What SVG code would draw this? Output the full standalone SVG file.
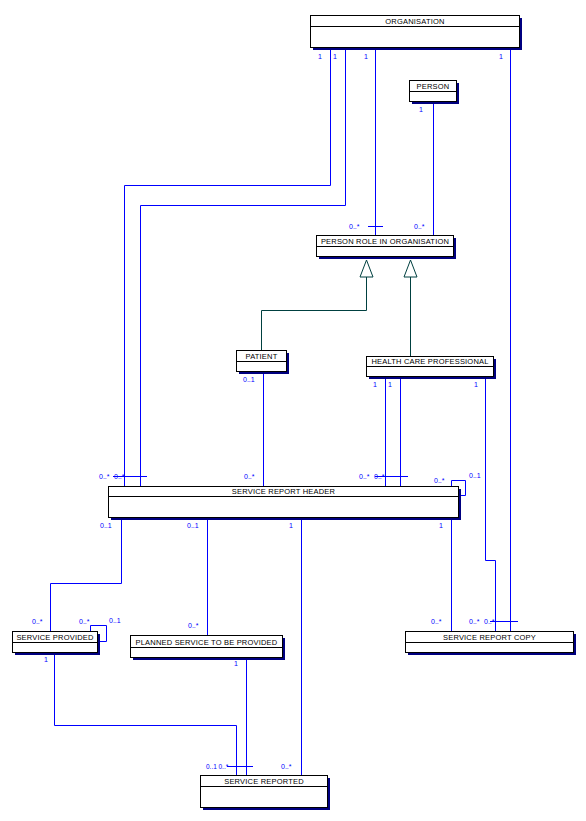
<svg xmlns="http://www.w3.org/2000/svg" width="586" height="821" viewBox="0 0 586 821">
<style>
.sh{fill:#000080}
.bx{fill:#fff;stroke:#000;stroke-width:1}
.hl{stroke:#000;stroke-width:1}
.t{font-family:"Liberation Sans",Arial,sans-serif;font-size:7.5px;fill:#000;text-anchor:middle;letter-spacing:0.2px}
.c{font-family:"Liberation Sans",Arial,sans-serif;font-size:7px;fill:#0000ff}
.ln{fill:none;stroke:#0000ff;stroke-width:1}
.inh{fill:none;stroke:#004040;stroke-width:1}
.tri{fill:#fff;stroke:#004040;stroke-width:1}
</style>
<rect width="586" height="821" fill="#fff"/>
<g id="connectors">
<path class="ln" d="M330.5,47 V185.5 H124.5 V486"/>
<path class="ln" d="M345.5,47 V205.5 H140.5 V486 M113,476.5 H147"/>
<path class="ln" d="M375.5,47 V235 M368,226.5 H383"/>
<path class="ln" d="M510.5,47 V631 M490,621.5 H518"/>
<path class="ln" d="M433.5,101 V235"/>
<path class="ln" d="M263.5,371 V486"/>
<path class="ln" d="M385.5,376 V486"/>
<path class="ln" d="M400.5,376 V486 M375,476.5 H408"/>
<path class="ln" d="M485.5,376 V560.5 H495.5 V631"/>
<path class="ln" d="M451.5,486 V480.5 H465.5 V495.5 H461"/>
<path class="ln" d="M121.5,517 V583.5 H50.5 V631"/>
<path class="ln" d="M207.5,517 V635"/>
<path class="ln" d="M301.5,517 V775"/>
<path class="ln" d="M451.5,517 V631"/>
<path class="ln" d="M90.5,631 V625.5 H106.5 V641.5 H100"/>
<path class="ln" d="M54.5,652 V725.5 H236.5 V775"/>
<path class="ln" d="M246.5,657 V775 M227,766.5 H253"/>
<path class="inh" d="M366.5,277 V310.5 H261.5 V350"/>
<path class="inh" d="M410.5,277 V356"/>
<polygon class="tri" points="366.5,260 360,277 373,277"/>
<polygon class="tri" points="410.5,260 404,277 417,277"/>
</g>
<g id="organisation">
<rect class="sh" x="313" y="18" width="209" height="32"/>
<rect class="bx" x="310.5" y="15.5" width="209" height="32"/>
<line class="hl" x1="310.5" y1="26.5" x2="519.5" y2="26.5"/>
<text class="t" x="415" y="24">ORGANISATION</text>
</g>
<g id="person">
<rect class="sh" x="412" y="83" width="47" height="21"/>
<rect class="bx" x="409.5" y="80.5" width="47" height="21"/>
<line class="hl" x1="409.5" y1="91.5" x2="456.5" y2="91.5"/>
<text class="t" x="433" y="89">PERSON</text>
</g>
<g id="person-role">
<rect class="sh" x="319" y="238" width="137" height="21"/>
<rect class="bx" x="316.5" y="235.5" width="137" height="21"/>
<line class="hl" x1="316.5" y1="246.5" x2="453.5" y2="246.5"/>
<text class="t" x="385" y="244">PERSON ROLE IN ORGANISATION</text>
</g>
<g id="patient">
<rect class="sh" x="239" y="353" width="50" height="21"/>
<rect class="bx" x="236.5" y="350.5" width="50" height="21"/>
<line class="hl" x1="236.5" y1="361.5" x2="286.5" y2="361.5"/>
<text class="t" x="261.5" y="359">PATIENT</text>
</g>
<g id="hcp">
<rect class="sh" x="369" y="359" width="127" height="20"/>
<rect class="bx" x="366.5" y="356.5" width="127" height="20"/>
<line class="hl" x1="366.5" y1="366.5" x2="493.5" y2="366.5"/>
<text class="t" x="430" y="364">HEALTH CARE PROFESSIONAL</text>
</g>
<g id="service-report-header">
<rect class="sh" x="111" y="489" width="350" height="31"/>
<rect class="bx" x="108.5" y="486.5" width="350" height="31"/>
<line class="hl" x1="108.5" y1="496.5" x2="458.5" y2="496.5"/>
<text class="t" x="283.5" y="494">SERVICE REPORT HEADER</text>
</g>
<g id="service-provided">
<rect class="sh" x="15" y="634" width="85" height="21"/>
<rect class="bx" x="12.5" y="631.5" width="85" height="21"/>
<line class="hl" x1="12.5" y1="642.5" x2="97.5" y2="642.5"/>
<text class="t" x="55" y="640">SERVICE PROVIDED</text>
</g>
<g id="planned-service">
<rect class="sh" x="133" y="638" width="152" height="22"/>
<rect class="bx" x="130.5" y="635.5" width="152" height="22"/>
<line class="hl" x1="130.5" y1="647.5" x2="282.5" y2="647.5"/>
<text class="t" x="206.5" y="645">PLANNED SERVICE TO BE PROVIDED</text>
</g>
<g id="service-report-copy">
<rect class="sh" x="408" y="634" width="168" height="21"/>
<rect class="bx" x="405.5" y="631.5" width="168" height="21"/>
<line class="hl" x1="405.5" y1="642.5" x2="573.5" y2="642.5"/>
<text class="t" x="489.5" y="640">SERVICE REPORT COPY</text>
</g>
<g id="service-reported">
<rect class="sh" x="203" y="778" width="127" height="32"/>
<rect class="bx" x="200.5" y="775.5" width="127" height="32"/>
<line class="hl" x1="200.5" y1="786.5" x2="327.5" y2="786.5"/>
<text class="t" x="264" y="784">SERVICE REPORTED</text>
</g>
<g id="labels">
<text class="c" x="318" y="59">1</text>
<text class="c" x="333" y="59">1</text>
<text class="c" x="364" y="59">1</text>
<text class="c" x="499" y="59">1</text>
<text class="c" x="419" y="112">1</text>
<text class="c" x="349" y="229">0..*</text>
<text class="c" x="414" y="229">0..*</text>
<text class="c" x="243" y="382">0..1</text>
<text class="c" x="373" y="387">1</text>
<text class="c" x="388" y="387">1</text>
<text class="c" x="474" y="387">1</text>
<text class="c" x="99" y="479">0..*</text>
<text class="c" x="114" y="479">0..*</text>
<text class="c" x="244" y="479">0..*</text>
<text class="c" x="359" y="479">0..*</text>
<text class="c" x="374" y="479">0..*</text>
<text class="c" x="434" y="483">0..*</text>
<text class="c" x="469" y="478">0..1</text>
<text class="c" x="100" y="528">0..1</text>
<text class="c" x="187" y="528">0..1</text>
<text class="c" x="289" y="528">1</text>
<text class="c" x="439" y="528">1</text>
<text class="c" x="32" y="624">0..*</text>
<text class="c" x="79" y="624">0..*</text>
<text class="c" x="109" y="623">0..1</text>
<text class="c" x="44" y="662">1</text>
<text class="c" x="188" y="628">0..*</text>
<text class="c" x="234" y="666">1</text>
<text class="c" x="431" y="624">0..*</text>
<text class="c" x="469" y="624">0..*</text>
<text class="c" x="484" y="624">0..*</text>
<text class="c" x="206" y="769" style="font-size:6.5px">0..1</text>
<text class="c" x="218.5" y="769" style="font-size:6.5px">0..*</text>
<text class="c" x="281" y="769">0..*</text>
</g>
</svg>
